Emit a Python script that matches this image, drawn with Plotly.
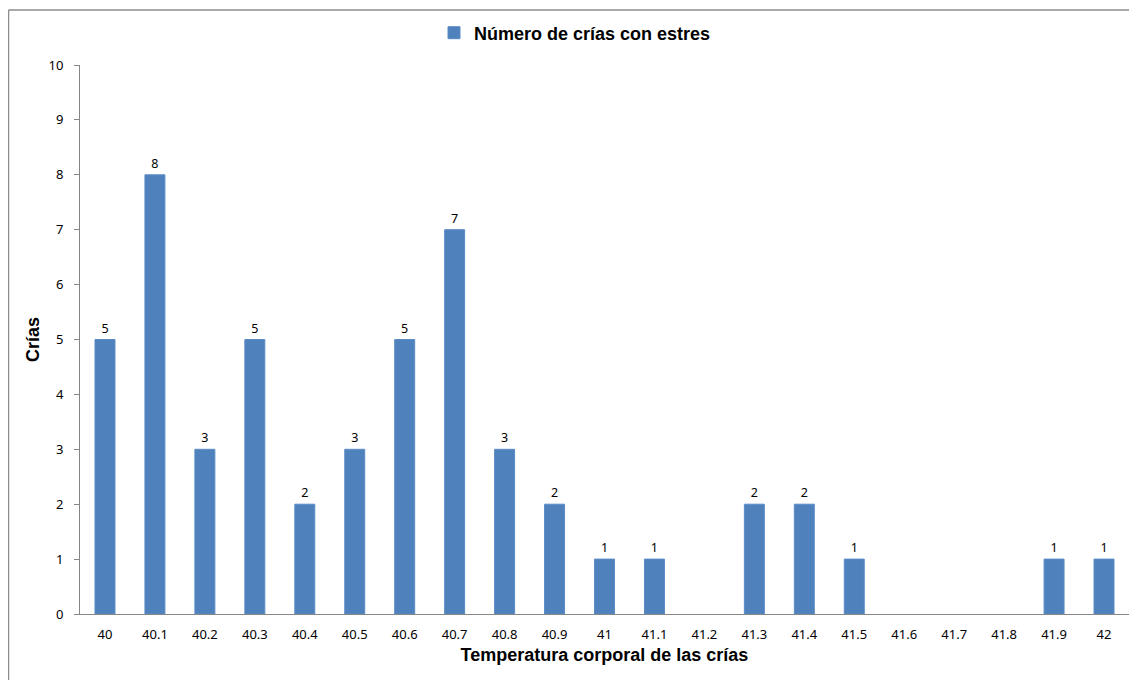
import plotly.graph_objects as go

categories = ["40", "40.1", "40.2", "40.3", "40.4", "40.5", "40.6", "40.7", "40.8", "40.9",
              "41", "41.1", "41.2", "41.3", "41.4", "41.5", "41.6", "41.7", "41.8", "41.9", "42"]
values = [5, 8, 3, 5, 2, 3, 5, 7, 3, 2, 1, 1, 0, 2, 2, 1, 0, 0, 0, 1, 1]
series_name = "Número de crías con estres"
labels = [str(v) if v > 0 else "" for v in values]
plot_values = [v if v > 0 else None for v in values]

# page body has an 8px margin; figure coordinates are offset by 8px
OFF = 8
W, H = 1137 - OFF, 680 - OFF
L, R, T, B = 80 - OFF, 8, 65 - OFF, 66
pw = W - L - R
ph = H - T - B

fig = go.Figure()
fig.add_trace(go.Bar(
    x=categories, y=plot_values, name=series_name,
    marker=dict(color="#4F81BD", line=dict(color="#5B8CC6", width=1)),
    text=labels, textposition="outside", cliponaxis=False,
    textfont=dict(family="Noto Sans", size=12.5, color="#000000"),
    showlegend=True,
))

fig.update_layout(
    width=W, height=H,
    margin=dict(l=L, r=R, t=T, b=B, autoexpand=False),
    paper_bgcolor="white", plot_bgcolor="white",
    bargap=0.6,
    showlegend=True,
    legend=dict(orientation="h", x=(575 - 80) / pw, xanchor="center",
                y=1 + (65 - 33) / ph, yanchor="middle",
                font=dict(family="Liberation Sans", size=18, color="#000000", weight="bold"),
                itemwidth=30, bgcolor="rgba(0,0,0,0)"),
    xaxis=dict(
        type="category", showline=True, linecolor="#868686", linewidth=1,
        ticks="", showgrid=False, ticklabelstandoff=8,
        tickfont=dict(family="Noto Sans", size=13, color="#000000"),
        title=dict(text="<b>Temperatura corporal de las crías</b>",
                   font=dict(family="Liberation Sans", size=18, color="#000000"),
                   standoff=6),
    ),
    yaxis=dict(
        range=[0, 10], dtick=1, showline=True, linecolor="#868686", linewidth=1,
        ticks="outside", ticklen=5, tickcolor="#868686", showgrid=False,
        zeroline=False, ticklabelstandoff=8,
        tickfont=dict(family="Noto Sans", size=13, color="#000000"),
        title=dict(text="<b>Crías</b>",
                   font=dict(family="Liberation Sans", size=18, color="#000000"),
                   standoff=4),
    ),
    shapes=[
        dict(type="line", xref="paper", yref="paper",
             x0=(0.5 - L) / pw, x1=(W - L) / pw, y0=1 + (T - 2) / ph, y1=1 + (T - 2) / ph,
             line=dict(color="#8C8C8C", width=1.5)),
        dict(type="line", xref="paper", yref="paper",
             x0=(0.5 - L) / pw, x1=(0.5 - L) / pw, y0=1 + (T - 2) / ph, y1=-(B + 5) / ph,
             line=dict(color="#8C8C8C", width=1.5)),
    ],
)

fig.write_html("out.html")
